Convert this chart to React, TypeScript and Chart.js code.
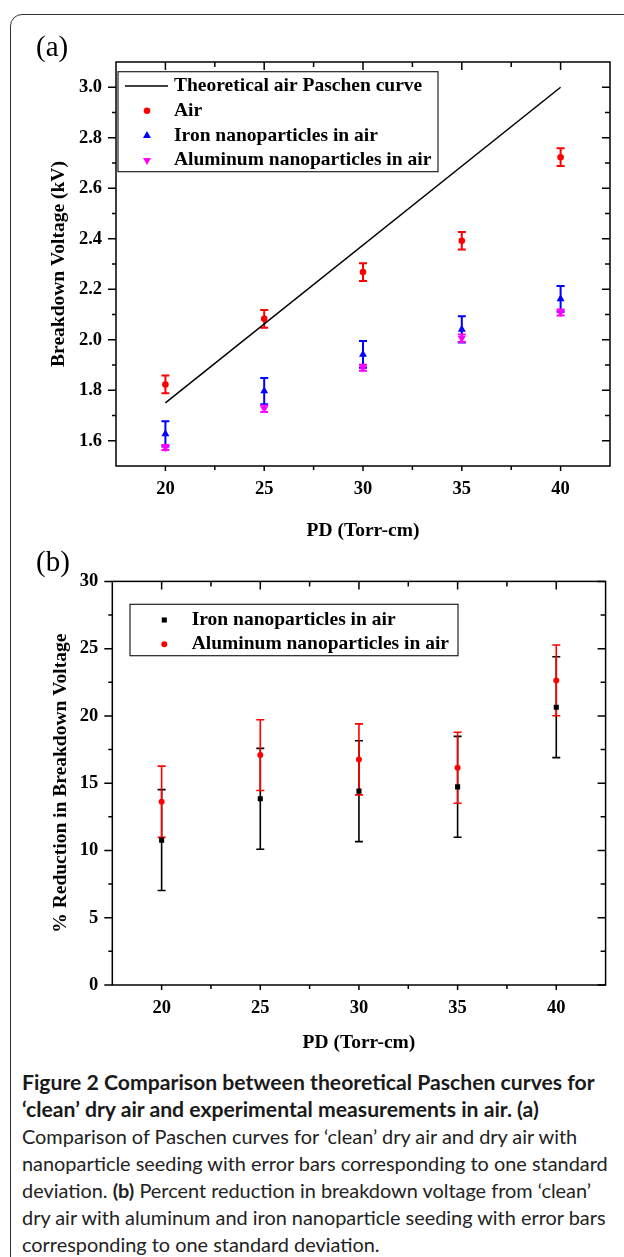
import React, { useEffect, useRef } from "react";
import { Chart, registerables } from "chart.js";
Chart.register(...registerables);

const SERIF = "'Liberation Serif', 'Times New Roman', Times, serif";

// ---------- shared x axis ----------
const pdValues = [20, 25, 30, 35, 40];
const xTickValues = [20, 25, 30, 35, 40];
const xMinorValues = [22.5, 27.5, 32.5, 37.5];

// ---------- panel (a): breakdown voltage (kV) ----------
const theoryPd = [20, 40];
const theoryVoltage = [1.75, 3.0];
const airVoltage = [1.823, 2.083, 2.268, 2.392, 2.723];
const airError = [0.035, 0.035, 0.035, 0.035, 0.035];
const ironVoltage = [1.627, 1.797, 1.942, 2.041, 2.162];
const ironError = [0.05, 0.052, 0.053, 0.052, 0.051];
const aluVoltage = [1.573, 1.727, 1.889, 2.006, 2.108];
const aluError = [0.01, 0.013, 0.012, 0.015, 0.012];
const aYTicks = [1.6, 1.8, 2.0, 2.2, 2.4, 2.6, 2.8, 3.0];
const aYMinor = [1.7, 1.9, 2.1, 2.3, 2.5, 2.7, 2.9];

// ---------- panel (b): % reduction ----------
const ironReduction = [10.77, 13.84, 14.41, 14.73, 20.65];
const ironReductionErr = [3.75, 3.75, 3.75, 3.75, 3.75];
const aluReduction = [13.62, 17.09, 16.77, 16.15, 22.64];
const aluReductionErr = [2.65, 2.63, 2.64, 2.64, 2.63];
const bYTicks = [0, 5, 10, 15, 20, 25, 30];
const bYMinor = [2.5, 7.5, 12.5, 17.5, 22.5, 27.5];

const pts = (xs: number[], ys: number[]) => xs.map((x, i) => ({ x, y: ys[i] }));

function drawMarker(ctx: CanvasRenderingContext2D, style: string, x: number, y: number, r: number, rot: number, color: string) {
  ctx.save();
  ctx.fillStyle = color;
  ctx.beginPath();
  if (style === "rect") {
    const s = r * Math.SQRT1_2;
    ctx.rect(x - s, y - s, 2 * s, 2 * s);
  } else if (style === "triangle") {
    let a = (rot * Math.PI) / 180;
    ctx.moveTo(x + Math.sin(a) * r, y - Math.cos(a) * r);
    a += (2 * Math.PI) / 3;
    ctx.lineTo(x + Math.sin(a) * r, y - Math.cos(a) * r);
    a += (2 * Math.PI) / 3;
    ctx.lineTo(x + Math.sin(a) * r, y - Math.cos(a) * r);
    ctx.closePath();
  } else {
    ctx.arc(x, y, r, 0, Math.PI * 2);
  }
  ctx.fill();
  ctx.restore();
}

const errorBarPlugin = {
  id: "errorBars",
  beforeDatasetsDraw(chart: any) {
    const ctx = chart.ctx;
    const xs = chart.scales.x;
    const ys = chart.scales.y;
    chart.data.datasets.forEach((ds: any) => {
      if (!ds.errors) return;
      ctx.save();
      ctx.strokeStyle = ds.errorColor;
      ctx.lineWidth = ds.errorWidth;
      const cap = ds.errorCap;
      ds.data.forEach((p: any, j: number) => {
        const e = ds.errors[j];
        const x = xs.getPixelForValue(p.x);
        const y1 = ys.getPixelForValue(p.y + e);
        const y2 = ys.getPixelForValue(p.y - e);
        ctx.beginPath();
        ctx.moveTo(x, y1);
        ctx.lineTo(x, y2);
        ctx.moveTo(x - cap, y1);
        ctx.lineTo(x + cap, y1);
        ctx.moveTo(x - cap, y2);
        ctx.lineTo(x + cap, y2);
        ctx.stroke();
      });
      ctx.restore();
    });
  },
};

const framePlugin = {
  id: "frame",
  afterDraw(chart: any, _a: any, o: any) {
    const ctx = chart.ctx;
    const { left, right, top, bottom } = chart.chartArea;
    const xs = chart.scales.x;
    const ys = chart.scales.y;
    ctx.save();
    ctx.strokeStyle = "#000";
    ctx.lineWidth = 1.5;
    ctx.strokeRect(left, top, right - left, bottom - top);
    ctx.beginPath();
    const xt = (vals: number[], lb: number, lt: number) =>
      vals.forEach((v) => {
        const x = xs.getPixelForValue(v);
        ctx.moveTo(x, bottom);
        ctx.lineTo(x, bottom + lb);
        ctx.moveTo(x, top);
        ctx.lineTo(x, top + lt);
      });
    const yt = (vals: number[], ll: number, lr: number) =>
      vals.forEach((v) => {
        const y = ys.getPixelForValue(v);
        ctx.moveTo(left, y);
        ctx.lineTo(left - ll, y);
        ctx.moveTo(right, y);
        ctx.lineTo(right - lr, y);
      });
    xt(o.xMajor, 5, 8);
    xt(o.xMinor, 4, 5);
    yt(o.yMajor, 8, 8);
    yt(o.yMinor, 4, 5);
    ctx.stroke();
    // panel label
    ctx.fillStyle = "#000";
    ctx.font = `29px ${SERIF}`;
    ctx.textBaseline = "alphabetic";
    ctx.textAlign = "left";
    ctx.fillText(o.label, o.labelX, o.labelY);
    ctx.restore();
  },
};

const insetLegendPlugin = {
  id: "insetLegend",
  afterDraw(chart: any, _a: any, o: any) {
    const ctx = chart.ctx;
    ctx.save();
    ctx.strokeStyle = "#222";
    ctx.lineWidth = 1.2;
    ctx.strokeRect(o.box[0], o.box[1], o.box[2], o.box[3]);
    chart.data.datasets.forEach((ds: any, i: number) => {
      const y = o.rowY + i * o.rowGap;
      if (ds.showLine) {
        ctx.strokeStyle = ds.borderColor;
        ctx.lineWidth = ds.borderWidth;
        ctx.beginPath();
        ctx.moveTo(o.lineX[0], y);
        ctx.lineTo(o.lineX[1], y);
        ctx.stroke();
      } else {
        drawMarker(ctx, ds.pointStyle, o.markerX, y, ds.pointRadius, ds.pointRotation || 0, ds.backgroundColor);
      }
      ctx.fillStyle = "#000";
      ctx.font = `bold 19.5px ${SERIF}`;
      ctx.textBaseline = "middle";
      ctx.textAlign = "left";
      ctx.fillText(ds.label, o.textX, y);
    });
    ctx.restore();
  },
};

function makeConfig(p: any) {
  return {
    type: "scatter",
    data: { datasets: p.datasets },
    plugins: [errorBarPlugin, framePlugin, insetLegendPlugin],
    options: {
      responsive: false,
      animation: false,
      devicePixelRatio: 1,
      layout: { padding: { left: 0, right: p.padRight, top: p.padTop, bottom: 0 } },
      plugins: {
        legend: { display: false },
        tooltip: { enabled: false },
        frame: { xMajor: xTickValues, xMinor: xMinorValues, yMajor: p.yTicks, yMinor: p.yMinor, label: p.label, labelX: p.labelX, labelY: p.labelY },
        insetLegend: p.legend,
      },
      scales: {
        x: {
          type: "linear",
          min: 17.5,
          max: 42.5,
          afterBuildTicks: (s: any) => {
            s.ticks = xTickValues.map((v) => ({ value: v }));
          },
          afterFit: (s: any) => {
            s.height = p.xHeight;
          },
          grid: { display: false, drawTicks: false },
          border: { display: false },
          ticks: {
            autoSkip: false,
            maxRotation: 0,
            padding: 12.5,
            color: "#000",
            font: { family: SERIF, size: 18.5, weight: "bold" },
            callback: (v: any) => String(v),
          },
          title: {
            display: true,
            text: "PD (Torr-cm)",
            color: "#000",
            font: { family: SERIF, size: 19.5, weight: "bold" },
            padding: { top: 0, bottom: p.xTitlePad },
          },
        },
        y: {
          type: "linear",
          min: p.yMin,
          max: p.yMax,
          afterBuildTicks: (s: any) => {
            s.ticks = p.yTicks.map((v: number) => ({ value: v }));
          },
          afterFit: (s: any) => {
            s.width = p.yWidth;
          },
          grid: { display: false, drawTicks: false },
          border: { display: false },
          ticks: {
            autoSkip: false,
            padding: 14,
            color: "#000",
            font: { family: SERIF, size: 18.5, weight: "bold" },
            callback: p.yFormat,
          },
          title: {
            display: true,
            text: p.yTitle,
            color: "#000",
            font: { family: SERIF, size: 19.5, weight: "bold" },
            padding: { top: p.yTitlePad, bottom: 0 },
          },
        },
      },
    },
  };
}

const configA = makeConfig({
  datasets: [
    {
      label: "Theoretical air Paschen curve",
      data: pts(theoryPd, theoryVoltage),
      showLine: true,
      borderColor: "#000",
      borderWidth: 1.5,
      pointRadius: 0,
      backgroundColor: "#000",
    },
    {
      label: "Air",
      data: pts(pdValues, airVoltage),
      pointStyle: "circle",
      pointRadius: 3.3,
      backgroundColor: "#ff0000",
      borderColor: "#ff0000",
      borderWidth: 0,
      errors: airError,
      errorColor: "#ff0000",
      errorWidth: 2,
      errorCap: 4,
    },
    {
      label: "Iron nanoparticles in air",
      data: pts(pdValues, ironVoltage),
      pointStyle: "triangle",
      pointRadius: 4.6,
      backgroundColor: "#0000ff",
      borderColor: "#0000ff",
      borderWidth: 0,
      errors: ironError,
      errorColor: "#0000ff",
      errorWidth: 2,
      errorCap: 4,
    },
    {
      label: "Aluminum nanoparticles in air",
      data: pts(pdValues, aluVoltage),
      pointStyle: "triangle",
      pointRotation: 180,
      rotation: 180,
      pointRadius: 4.6,
      backgroundColor: "#ff00ff",
      borderColor: "#ff00ff",
      borderWidth: 0,
      errors: aluError,
      errorColor: "#ff00ff",
      errorWidth: 2,
      errorCap: 4,
    },
  ],
  padRight: 14,
  padTop: 62,
  xHeight: 79,
  yWidth: 116,
  xTitlePad: 2.3,
  yTitlePad: 47.3,
  yMin: 1.5,
  yMax: 3.1,
  yTicks: aYTicks,
  yMinor: aYMinor,
  yFormat: (v: any) => Number(v).toFixed(1),
  yTitle: "Breakdown Voltage (kV)",
  label: "(a)",
  labelX: 36,
  labelY: 55.5,
  legend: { box: [118, 71.7, 320, 100], rowY: 86, rowGap: 24.8, markerX: 147, lineX: [125, 168], textX: 174 },
});

const configB = makeConfig({
  datasets: [
    {
      label: "Iron nanoparticles in air",
      data: pts(pdValues, ironReduction),
      pointStyle: "rect",
      pointRadius: 3.6,
      backgroundColor: "#000",
      borderColor: "#000",
      borderWidth: 0,
      errors: ironReductionErr,
      errorColor: "#000",
      errorWidth: 1.6,
      errorCap: 4,
    },
    {
      label: "Aluminum nanoparticles in air",
      data: pts(pdValues, aluReduction),
      pointStyle: "circle",
      pointRadius: 3,
      backgroundColor: "#ff0000",
      borderColor: "#ff0000",
      borderWidth: 0,
      errors: aluReductionErr,
      errorColor: "#ff0000",
      errorWidth: 1.6,
      errorCap: 4,
    },
  ],
  padRight: 18.4,
  padTop: 36.4,
  xHeight: 75,
  yWidth: 112.3,
  xTitlePad: 5.3,
  yTitlePad: 49.3,
  yMin: 0,
  yMax: 30,
  yTicks: bYTicks,
  yMinor: bYMinor,
  yFormat: (v: any) => String(v),
  yTitle: "% Reduction in Breakdown Voltage",
  label: "(b)",
  labelX: 36,
  labelY: 25.5,
  legend: { box: [130, 59.3, 328, 51.4], rowY: 75, rowGap: 24.3, markerX: 164.3, lineX: [150, 180], textX: 191.7 },
});

function ChartCanvas({ config, top, height }: { config: any; top: number; height: number }) {
  const ref = useRef<HTMLCanvasElement>(null);
  useEffect(() => {
    const chart = new Chart(ref.current as HTMLCanvasElement, config);
    return () => chart.destroy();
  }, []);
  return (
    <canvas
      ref={ref}
      width={624}
      height={height}
      style={{ position: "absolute", left: 0, top, width: 624, height, display: "block" }}
    />
  );
}

const captionStyle: React.CSSProperties = {
  position: "absolute",
  left: 22,
  top: 1069,
  fontFamily: "Lato, 'Noto Sans', sans-serif",
  fontSize: 19.9,
  lineHeight: "27px",
  color: "#222",
  whiteSpace: "nowrap",
};

const boldLine: React.CSSProperties = { fontWeight: 700, fontSize: 21.2, color: "#1a1a1a" };

export default function App() {
  return (
    <div style={{ position: "absolute", left: 0, top: 0, width: 624, height: 1257, overflow: "hidden", background: "#fff" }}>
      <div
        style={{
          position: "absolute",
          left: 10,
          top: 14,
          width: 700,
          height: 1260,
          border: "1.5px solid #333",
          borderRadius: 12,
          boxSizing: "border-box",
        }}
      />
      <ChartCanvas config={configA} top={0} height={545} />
      <ChartCanvas config={configB} top={545} height={515} />
      <div style={captionStyle}>
        <div style={boldLine}>Figure 2 Comparison between theoretical Paschen curves for</div>
        <div style={boldLine}>‘clean’ dry air and experimental measurements in air. (a)</div>
        <div>Comparison of Paschen curves for ‘clean’ dry air and dry air with</div>
        <div>nanoparticle seeding with error bars corresponding to one standard</div>
        <div>
          deviation. <b>(b)</b> Percent reduction in breakdown voltage from ‘clean’
        </div>
        <div>dry air with aluminum and iron nanoparticle seeding with error bars</div>
        <div>corresponding to one standard deviation.</div>
      </div>
    </div>
  );
}
